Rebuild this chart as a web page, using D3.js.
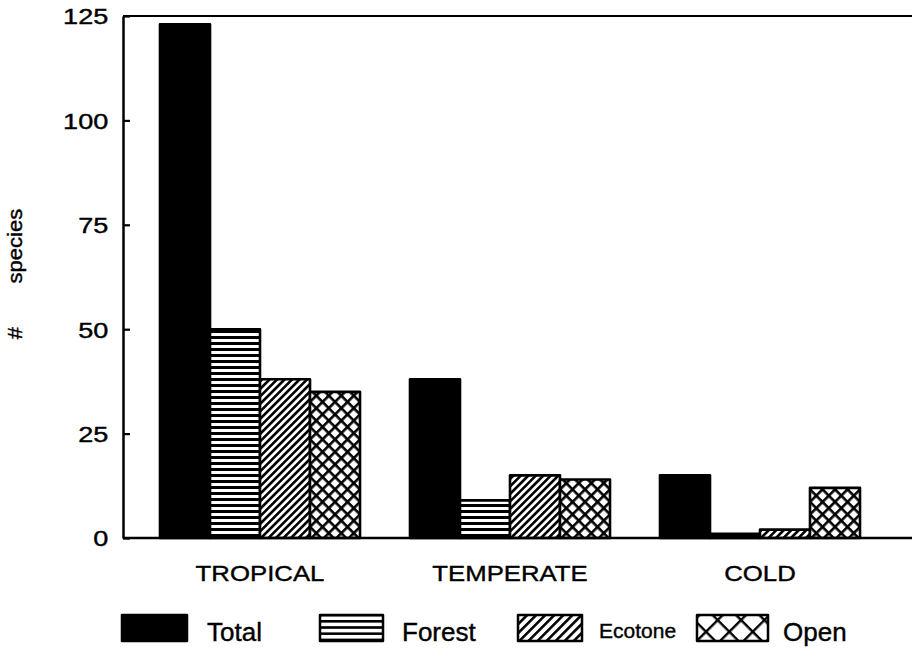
<!DOCTYPE html>
<html>
<head>
<meta charset="utf-8">
<script src="https://cdn.jsdelivr.net/npm/d3@7"></script>
<style>
  html, body { margin: 0; padding: 0; background: #fff; }
  svg { display: block; font-family: "Liberation Sans", Arial, Helvetica, sans-serif; }
  text { fill: #000; stroke: #000; stroke-width: 0.4px; }
</style>
</head>
<body>
<svg id="chart" width="912" height="649"></svg>
<script>
// ---- data ----
const categories = ["TROPICAL", "TEMPERATE", "COLD"];
const seriesNames = ["Total", "Forest", "Ecotone", "Open"];
const totalValues   = [123, 38, 15];
const forestValues  = [50, 9, 1];
const ecotoneValues = [38, 15, 2];
const openValues    = [35, 14, 12];
const yTicks = [0, 25, 50, 75, 100, 125];
const yLabel = "# species";

const seriesValues = [totalValues, forestValues, ecotoneValues, openValues];
const rows = categories.map((c, i) => ({
  category: c,
  values: seriesNames.map((s, j) => ({ series: s, value: seriesValues[j][i] }))
}));

// ---- layout ----
const svg = d3.select("#chart");
const axisX = 123, topY = 16, baseY = 538, rightX = 912;

const x0 = d3.scaleBand().domain(categories).range([135, 885]).paddingInner(0.2).paddingOuter(0.1);
const x1 = d3.scaleBand().domain(seriesNames).range([0, x0.bandwidth()]).padding(0);
const y = d3.scaleLinear().domain([0, 125]).range([baseY, topY]);

// ---- patterns ----
const defs = svg.append("defs");
function hPattern(id, period, thick) {
  const p = defs.append("pattern").attr("id", id).attr("patternUnits", "userSpaceOnUse")
    .attr("width", 10).attr("height", period);
  p.append("rect").attr("width", 10).attr("height", period).attr("fill", "#fff");
  p.append("rect").attr("width", 10).attr("height", thick).attr("fill", "#000");
}
function diagPattern(id, period, thick) {
  const p = defs.append("pattern").attr("id", id).attr("patternUnits", "userSpaceOnUse")
    .attr("width", period).attr("height", 10).attr("patternTransform", "rotate(45)");
  p.append("rect").attr("width", period).attr("height", 10).attr("fill", "#fff");
  p.append("rect").attr("width", thick).attr("height", 10).attr("fill", "#000");
}
function crossPattern(id, period, thick, shift) {
  const p = defs.append("pattern").attr("id", id).attr("patternUnits", "userSpaceOnUse")
    .attr("width", period).attr("height", period)
    .attr("patternTransform", `translate(${shift},0) rotate(45)`);
  p.append("rect").attr("width", period).attr("height", period).attr("fill", "#fff");
  p.append("rect").attr("width", thick).attr("height", period).attr("fill", "#000");
  p.append("rect").attr("width", period).attr("height", thick).attr("fill", "#000");
}
hPattern("pat-forest", 6, 3);
diagPattern("pat-ecotone", 5.3, 2.6);
crossPattern("pat-open", 8.84, 2.6, 0);
hPattern("pat-forest-lg", 6.2, 2.6);
diagPattern("pat-ecotone-lg", 6.4, 2.6);
crossPattern("pat-open-lg", 16.5, 2.4, 6);

const fills = { Total: "#000", Forest: "url(#pat-forest)", Ecotone: "url(#pat-ecotone)", Open: "url(#pat-open)" };
const legendFills = { Total: "#000", Forest: "url(#pat-forest-lg)", Ecotone: "url(#pat-ecotone-lg)", Open: "url(#pat-open-lg)" };

// ---- bars ----
const groups = svg.append("g").selectAll("g").data(rows).join("g")
  .attr("transform", d => `translate(${x0(d.category)},0)`);
groups.selectAll("rect").data(d => d.values).join("rect")
  .attr("x", d => x1(d.series))
  .attr("width", x1.bandwidth())
  .attr("y", d => y(d.value))
  .attr("height", d => y(0) - y(d.value))
  .attr("fill", d => fills[d.series])
  .attr("stroke", "#000")
  .attr("stroke-width", 2.6)
  .attr("stroke-linejoin", "round");

// ---- frame lines ----
svg.append("line").attr("x1", axisX).attr("x2", rightX).attr("y1", topY).attr("y2", topY)
  .attr("stroke", "#000").attr("stroke-width", 2.2);
svg.append("line").attr("x1", axisX).attr("x2", rightX).attr("y1", baseY).attr("y2", baseY)
  .attr("stroke", "#000").attr("stroke-width", 2.5);

// ---- y axis ----
const yAxis = d3.axisLeft(y).tickValues(yTicks).tickSizeInner(-7).tickSizeOuter(0).tickPadding(12);
const gy = svg.append("g").attr("transform", `translate(${axisX},0)`).call(yAxis);
gy.select(".domain").attr("stroke", "#000").attr("stroke-width", 2.5);
gy.selectAll(".tick line").attr("stroke", "#000").attr("stroke-width", 2.2);
gy.selectAll(".tick text")
  .attr("font-size", 22).attr("font-family", null)
  .attr("dy", "0.36em")
  .attr("transform", "scale(1.23,1)");

// ---- y label ----
svg.append("text")
  .attr("transform", `translate(22,274) rotate(-90) scale(1.1,1)`)
  .attr("text-anchor", "middle")
  .attr("font-size", 20)
  .style("word-spacing", "34px")
  .text(yLabel);

// ---- category labels ----
svg.append("g").selectAll("text").data(categories).join("text")
  .attr("transform", d => `translate(${x0(d) + x0.bandwidth() / 2},581) scale(1.12,1)`)
  .attr("text-anchor", "middle")
  .attr("font-size", 23)
  .text(d => d);

// ---- legend ----
const legendLayout = {
  Total:   { sx: 122, sw: 65, tx: 207, fs: 26, ty: 641 },
  Forest:  { sx: 320, sw: 63, tx: 402, fs: 26, ty: 641 },
  Ecotone: { sx: 518, sw: 64, tx: 599, fs: 21, ty: 638 },
  Open:    { sx: 697, sw: 71, tx: 783, fs: 26, ty: 641 }
};
const lg = svg.append("g").selectAll("g").data(seriesNames).join("g");
lg.append("rect")
  .attr("x", d => legendLayout[d].sx).attr("y", 615)
  .attr("width", d => legendLayout[d].sw).attr("height", 26)
  .attr("fill", d => legendFills[d]).attr("stroke", "#000").attr("stroke-width", 2.5)
  .attr("stroke-linejoin", "round");
lg.append("text")
  .attr("x", d => legendLayout[d].tx).attr("y", d => legendLayout[d].ty)
  .attr("font-size", d => legendLayout[d].fs)
  .text(d => d);
</script>
</body>
</html>
